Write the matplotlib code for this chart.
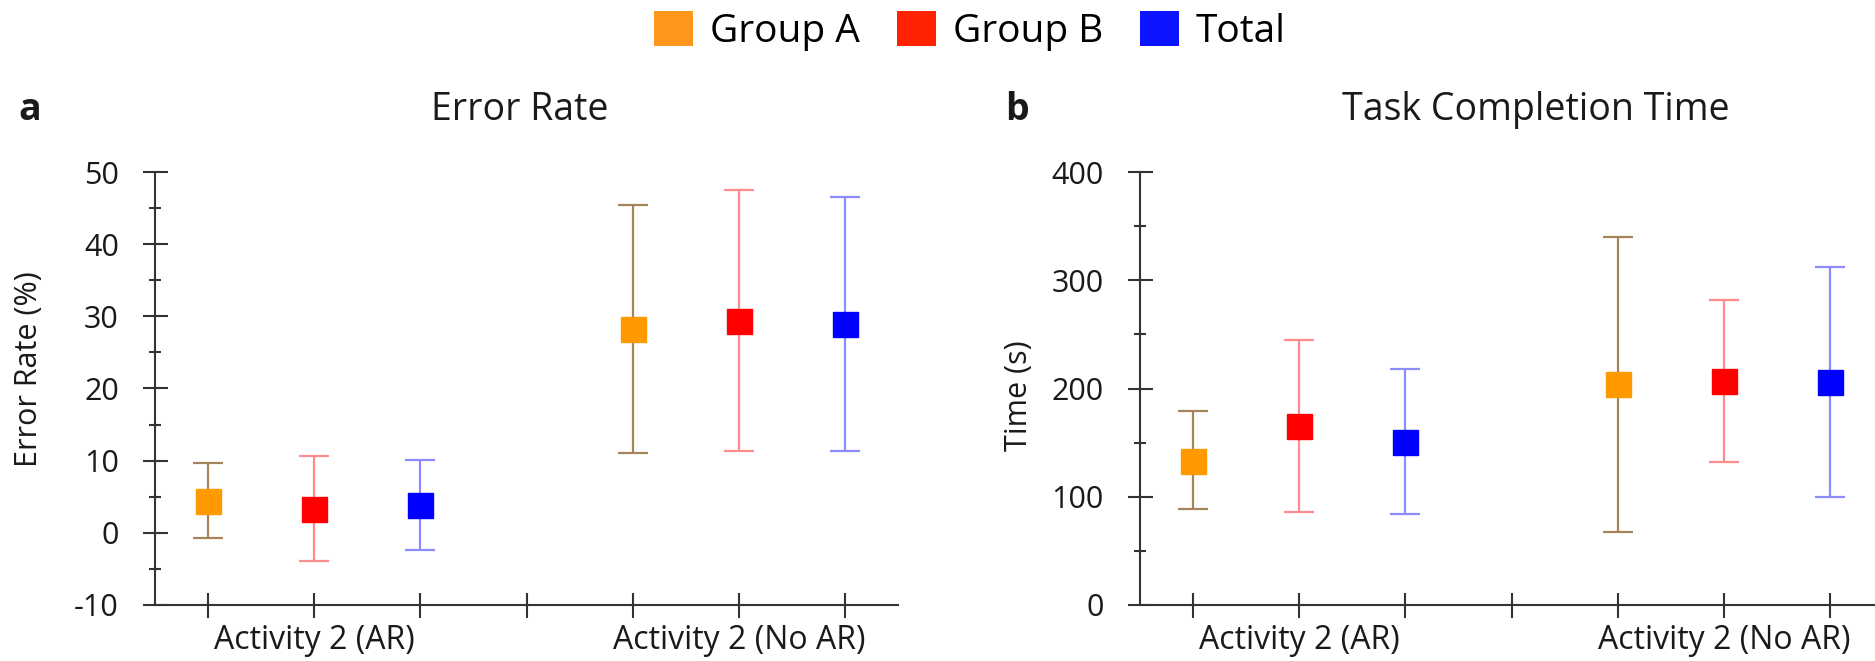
import numpy as np
import matplotlib
matplotlib.use("Agg")
import matplotlib.pyplot as plt
from matplotlib.patches import Patch
from matplotlib.ticker import MultipleLocator

plt.rcParams['font.family'] = ['Open Sans', 'DejaVu Sans']
plt.rcParams['axes.unicode_minus'] = False

# categories / positions (4 is an empty separator slot)
activities = ["Activity 2 (AR)", "Activity 2 (No AR)"]
group_names = ["Group A", "Group B", "Total"]
pos_ar = [1, 2, 3]
pos_noar = [5, 6, 7]
x_ticks = [1, 2, 3, 4, 5, 6, 7]
x_labels = ["", activities[0], "", "", "", activities[1], ""]

# error rate (%): mean, lower, upper -- order [AR, No AR]
err_mean_a = [4.4, 28.3]
err_lo_a = [-0.7, 11.1]
err_hi_a = [9.7, 45.4]
err_mean_b = [3.3, 29.4]
err_lo_b = [-3.9, 11.4]
err_hi_b = [10.6, 47.5]
err_mean_t = [3.8, 28.9]
err_lo_t = [-2.4, 11.3]
err_hi_t = [10.1, 46.6]

# task completion time (s)
time_mean_a = [133, 204]
time_lo_a = [89, 67]
time_hi_a = [179, 340]
time_mean_b = [165, 207]
time_lo_b = [86, 132]
time_hi_b = [245, 282]
time_mean_t = [151, 206]
time_lo_t = [84, 100]
time_hi_t = [218, 312]

marker_colors = ["#FF9900", "#FF0000", "#0000FF"]
bar_colors = ["#A6845A", "#FF8C8C", "#8C8CFF"]
legend_colors = ["#FF961E", "#FF2200", "#0A14FF"]
axis_color = "#333333"
text_color = "#1a1a1a"

fig = plt.figure(figsize=(18.75, 6.61), dpi=100)
ax1 = fig.add_axes([155/1875, 1-605/661, 743/1875, 433/661])
ax2 = fig.add_axes([1140/1875, 1-605/661, 743/1875, 433/661])


def draw_panel(ax, means, los, his):
    for i in range(3):
        xs = [pos_ar[i], pos_noar[i]]
        m = np.array(means[i])
        lo = m - np.array(los[i])
        hi = np.array(his[i]) - m
        ax.errorbar(xs, m, yerr=[lo, hi], fmt='none', ecolor=bar_colors[i],
                    elinewidth=1.6, capsize=11, capthick=1.6, zorder=2)
        ax.plot(xs, m, linestyle='none', marker='s', markersize=18,
                color=marker_colors[i], zorder=3)
    ax.set_xlim(0.5, 7.5)
    ax.set_xticks(x_ticks)
    ax.set_xticklabels(x_labels)
    for s in ['top', 'right']:
        ax.spines[s].set_visible(False)
    for s in ['left', 'bottom']:
        ax.spines[s].set_color(axis_color)
        ax.spines[s].set_linewidth(1.5)
    ax.tick_params(axis='both', which='major', direction='inout', length=18,
                   width=1.5, color=axis_color, labelsize=22, labelcolor=text_color)
    ax.tick_params(axis='y', which='minor', direction='inout', length=9,
                   width=1.5, color=axis_color)
    ax.tick_params(axis='y', which='major', pad=17)
    ax.tick_params(axis='x', which='major', pad=5, labelsize=23)


draw_panel(ax1, [err_mean_a, err_mean_b, err_mean_t],
           [err_lo_a, err_lo_b, err_lo_t], [err_hi_a, err_hi_b, err_hi_t])
ax1.set_ylim(-10, 50)
ax1.yaxis.set_major_locator(MultipleLocator(10))
ax1.yaxis.set_minor_locator(MultipleLocator(5))
ax1.set_ylabel("Error Rate (%)", fontsize=22, color=text_color)
ax1.yaxis.set_label_coords((44-155)/743, (605-369)/433)

draw_panel(ax2, [time_mean_a, time_mean_b, time_mean_t],
           [time_lo_a, time_lo_b, time_lo_t], [time_hi_a, time_hi_b, time_hi_t])
ax2.set_ylim(0, 400)
ax2.yaxis.set_major_locator(MultipleLocator(100))
ax2.yaxis.set_minor_locator(MultipleLocator(50))
ax2.set_ylabel("Time (s)", fontsize=22, color=text_color)
ax2.yaxis.set_label_coords((1034-1140)/743, (605-396)/433)

fig.text(520/1875, 1-120/661, "Error Rate", fontsize=27, ha='center', va='baseline', color=text_color)
fig.text(1536/1875, 1-120/661, "Task Completion Time", fontsize=27, ha='center', va='baseline', color=text_color)
fig.text(18/1875, 1-120/661, "a", fontsize=27, fontweight='bold', ha='left', va='baseline', color=text_color)
fig.text(1005/1875, 1-120/661, "b", fontsize=27, fontweight='bold', ha='left', va='baseline', color=text_color)

handles = [Patch(facecolor=c, edgecolor='none') for c in legend_colors]
fig.legend(handles, group_names, loc='center left', bbox_to_anchor=(654/1875, 1-31/661),
           ncol=3, frameon=False, fontsize=28, handlelength=1.0, handleheight=1.0,
           handletextpad=0.44, columnspacing=0.95, borderaxespad=0, borderpad=0)

fig.savefig("out.png", dpi=100)
